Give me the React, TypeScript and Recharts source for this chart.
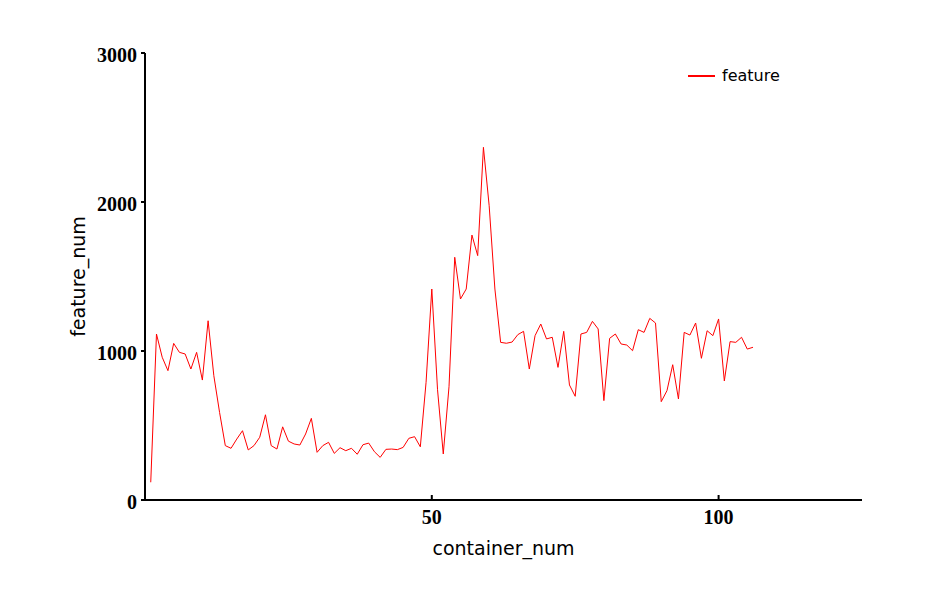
import { Label, Line, LineChart, XAxis, YAxis } from "recharts";

// feature count per container, containers numbered from 1
const featureNums = [
	119, 1114, 958, 868, 1051, 991, 980, 879, 991, 805,
	1203, 834, 588, 365, 347, 409, 465, 336, 365, 421,
	572, 365, 342, 491, 395, 376, 369, 443, 548, 320,
	365, 387, 313, 351, 331, 347, 307, 371, 382, 324,
	286, 340, 342, 338, 353, 414, 425, 357, 790, 1416,
	740, 309, 760, 1629, 1349, 1416, 1778, 1640, 2367, 1975,
	1416, 1058, 1052, 1060, 1110, 1132, 879, 1103, 1181, 1081,
	1092, 890, 1132, 772, 696, 1114, 1125, 1199, 1148, 667,
	1085, 1114, 1047, 1040, 1002, 1143, 1125, 1219, 1188, 660,
	734, 908, 678, 1125, 1107, 1188, 951, 1136, 1103, 1215,
	799, 1063, 1058, 1092, 1013, 1025,
];

const xTicks = [50, 100];
const yTicks = [0, 1000, 2000, 3000];
const seriesName = "feature";

const data = featureNums.map((v, i) => ({ container_num: i + 1, feature: v }));

const tickFont = {
	fontFamily: "'Liberation Serif', serif",
	fontWeight: "bold" as const,
	fontSize: 20,
	fill: "#000",
};
const titleFont = "'DejaVu Sans', sans-serif";

function XTick(props: any) {
	const { x, y, payload } = props;
	return (
		<g>
			<line x1={x} y1={y} x2={x} y2={y - 5} stroke="#000" strokeWidth={2} />
			<text x={x} y={y + 24} textAnchor="middle" {...tickFont}>
				{payload.value}
			</text>
		</g>
	);
}

// legend drawn as an overlay so it doesn't eat into the plot area
function LegendBox() {
	return (
		<div
			style={{
				position: "absolute",
				left: 688,
				top: 66,
				display: "flex",
				alignItems: "center",
				fontFamily: titleFont,
				fontSize: 16,
				lineHeight: "20px",
				color: "#000",
			}}
		>
			<span style={{ display: "inline-block", width: 27, height: 2, background: "#ff0000", marginRight: 7 }} />
			<span>{seriesName}</span>
		</div>
	);
}

export default function App() {
	return (
		<div style={{ position: "absolute", left: 0, top: 0, width: 927, height: 606, background: "#fff" }}>
			<LineChart
				width={927}
				height={606}
				data={data}
				margin={{ top: 53, right: 65, bottom: 56, left: 70 }}
			>
				<XAxis
					dataKey="container_num"
					type="number"
					domain={[0, 125]}
					ticks={xTicks}
					tickSize={0}
					tickMargin={0}
					tickLine={false}
					tick={<XTick />}
					axisLine={{ stroke: "#000", strokeWidth: 2 }}
					height={50}
				>
					<Label
						content={({ viewBox }: any) => (
							<text
								x={viewBox.x + viewBox.width / 2}
								y={viewBox.y + 55}
								textAnchor="middle"
								fontFamily={titleFont}
								fontSize={19}
								fill="#000"
							>
								container_num
							</text>
						)}
					/>
				</XAxis>
				<YAxis
					type="number"
					domain={[0, 3000]}
					ticks={yTicks}
					width={75}
					tickSize={4}
					tickMargin={4}
					tickLine={{ stroke: "#000", strokeWidth: 2 }}
					axisLine={{ stroke: "#000", strokeWidth: 2 }}
					tick={{ ...tickFont, dy: 2 }}
				>
					<Label
						content={({ viewBox }: any) => {
							const cx = viewBox.x + 15;
							const cy = viewBox.y + viewBox.height / 2;
							return (
								<text
									x={cx}
									y={cy}
									transform={`rotate(-90 ${cx} ${cy})`}
									textAnchor="middle"
									fontFamily={titleFont}
									fontSize={19}
									fill="#000"
								>
									feature_num
								</text>
							);
						}}
					/>
				</YAxis>
				<Line
					type="linear"
					dataKey="feature"
					name={seriesName}
					stroke="#ff0000"
					strokeWidth={1}
					dot={false}
					isAnimationActive={false}
				/>
			</LineChart>
			<LegendBox />
		</div>
	);
}
